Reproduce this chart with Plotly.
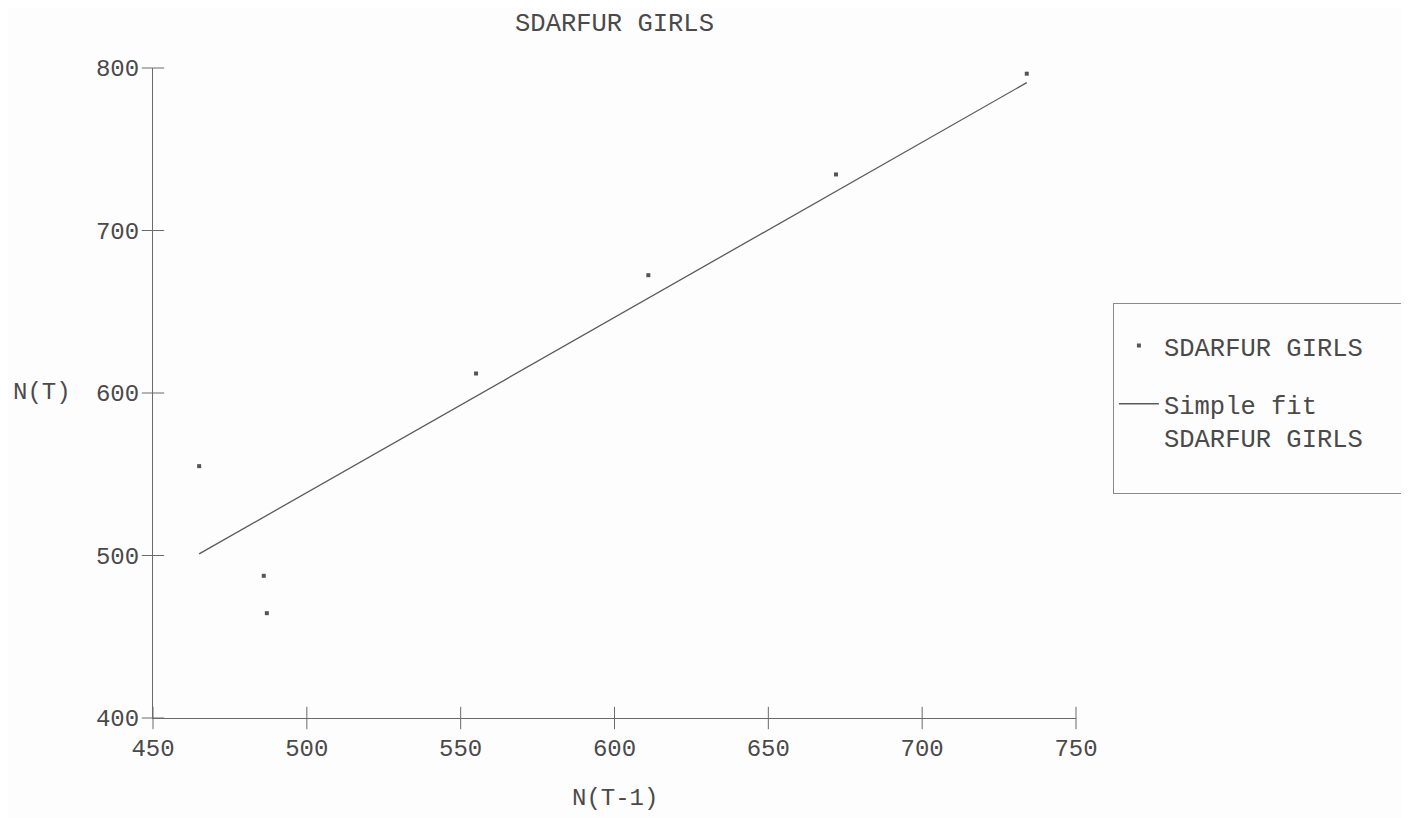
import plotly.graph_objects as go

# Data
n_prev = [486, 487, 465, 555, 611, 672, 734]             # N(T-1)
n_curr = [487.5, 464.5, 555, 612, 672.5, 734.5, 796.5]   # N(T)
fit_x = [465, 734]
fit_y = [501, 791]

x_ticks = [450, 500, 550, 600, 650, 700, 750]
y_ticks = [400, 500, 600, 700, 800]

title_text = "SDARFUR GIRLS"
series_name = "SDARFUR GIRLS\u00a0\u00a0\u00a0"
fit_name = "Simple fit<br>SDARFUR GIRLS<br><span style='font-size:8px'>\u00a0</span>"

FONT = "Liberation Mono"
INK = "#4a4a4a"
AX = "#6a6a6a"
X0, Y0 = x_ticks[0], y_ticks[0]

fig = go.Figure()
fig.add_trace(go.Scatter(
    x=n_prev, y=n_curr, mode="markers", name=series_name, legendgroup="a",
    marker=dict(symbol="square", size=4, color="#555555", line=dict(width=0)),
))
fig.add_trace(go.Scatter(
    x=fit_x, y=fit_y, mode="lines", name=fit_name, legendgroup="b",
    line=dict(color="#5a5a5a", width=1.3),
))

# crossing tick marks on both axes (at the tick values, via the axis scales)
fig.add_trace(go.Scatter(
    x=x_ticks, y=[Y0] * len(x_ticks), mode="markers", showlegend=False,
    hoverinfo="skip", cliponaxis=False,
    marker=dict(symbol="line-ns", size=16, line=dict(color=AX, width=1)),
))
fig.add_trace(go.Scatter(
    x=[X0] * len(y_ticks), y=y_ticks, mode="markers", showlegend=False,
    hoverinfo="skip", cliponaxis=False,
    marker=dict(symbol="line-ew", size=16, line=dict(color=AX, width=1)),
))

common = dict(showgrid=False, zeroline=False, showline=True, linecolor=AX,
              linewidth=1, ticks="", ticklabelstandoff=8,
              tickfont=dict(family=FONT, size=24, color=INK))

fig.update_layout(
    width=1401, height=810,
    paper_bgcolor="#fdfdfd", plot_bgcolor="#fdfdfd",
    margin=dict(l=145, r=333, t=60, b=100, autoexpand=False),
    font=dict(family=FONT, size=24, color=INK),
    title=dict(text=title_text, x=0.5, xref="paper", xanchor="center",
               y=1 - 14 / 810, yanchor="middle", yref="container",
               font=dict(family=FONT, size=25.5, color=INK)),
    xaxis=dict(range=[450, 750], tickvals=x_ticks, **common),
    yaxis=dict(range=[400, 800], tickvals=y_ticks, **common),
    legend=dict(x=1.040, xanchor="left", y=0.638, yanchor="top",
                bordercolor="#8a8a8a", borderwidth=1, bgcolor="#fdfdfd",
                font=dict(family=FONT, size=25.5, color=INK),
                title=dict(text=" ", font=dict(size=14)),
                traceorder="grouped", tracegroupgap=22, valign="top",
                itemwidth=40),
    showlegend=True,
    annotations=[
        dict(text="N(T-1)", xref="paper", yref="paper", x=0.5, y=-80 / 650,
             xanchor="center", yanchor="middle", showarrow=False,
             font=dict(family=FONT, size=24, color=INK)),
        dict(text="N(T)", xref="paper", yref="paper", x=-111 / 923, y=(718 - 392) / 650,
             xanchor="center", yanchor="middle", showarrow=False,
             font=dict(family=FONT, size=24, color=INK)),
    ],
)

fig.write_html("out.html")
